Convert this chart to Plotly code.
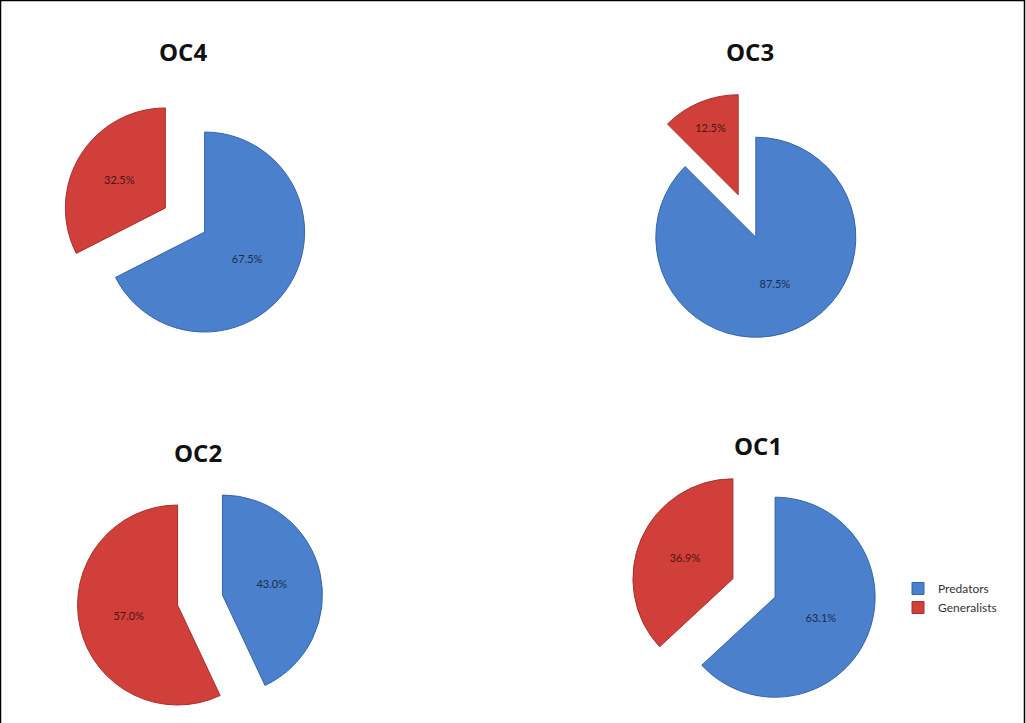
import plotly.graph_objects as go

W, H = 1026, 723

charts = ["OC4", "OC3", "OC2", "OC1"]
categories = ["Predators", "Generalists"]
predators = [67.5, 87.5, 43.0, 63.1]
generalists = [32.5, 12.5, 57.0, 36.9]

colors = ["#4A80CC", "#D13F3A"]
line_colors = ["#3565A8", "#A8302C"]

# pie centres (px, from top-left) and title positions
centers = [(185, 220), (747, 216), (200, 600), (754, 588)]
title_pos = [(183, 52), (750, 52), (198, 452), (758, 445)]
radius = 100
pull = 0.23

fig = go.Figure()
for i, name in enumerate(charts):
    cx, cy = centers[i]
    half = radius * (1 + pull)
    dx = [(cx - half) / W, (cx + half) / W]
    dy = [(H - cy - half) / H, (H - cy + half) / H]
    fig.add_trace(go.Pie(
        labels=categories,
        values=[predators[i], generalists[i]],
        sort=False,
        direction="clockwise",
        rotation=0,
        pull=[pull, pull],
        marker=dict(colors=colors, line=dict(color=line_colors, width=1)),
        texttemplate="%{percent:.1%}",
        textposition="inside",
        insidetextorientation="horizontal",
        textfont=dict(family="Lato, Liberation Sans, sans-serif", size=11,
                      color=["#1C2E4F", "#4A1512"]),
        domain=dict(x=dx, y=dy),
        showlegend=(i == 0),
        hoverinfo="label+percent",
    ))
    tx, ty = title_pos[i]
    fig.add_annotation(
        x=tx / W, y=1 - ty / H, xref="paper", yref="paper",
        text="<b>" + name + "</b>", showarrow=False,
        font=dict(family="Open Sans, Lato, sans-serif", size=24, color="#111111"),
        xanchor="center", yanchor="middle",
    )

fig.add_shape(type="rect", xref="paper", yref="paper",
              x0=0.5 / W, y0=-0.01, x1=1 - 1.5 / W, y1=1 - 0.5 / H,
              line=dict(color="black", width=1.5), fillcolor="rgba(0,0,0,0)")

fig.update_layout(
    width=W, height=H,
    margin=dict(l=0, r=0, t=0, b=0),
    paper_bgcolor="white", plot_bgcolor="white",
    legend=dict(x=898 / W, y=1 - 574 / H, xanchor="left", yanchor="top",
                font=dict(family="Lato, Liberation Sans, sans-serif", size=12, color="#333333"),
                itemwidth=30, bgcolor="rgba(0,0,0,0)"),
)

fig.write_html("out.html",
               config={"displayModeBar": False},
               post_script="document.body.style.margin='0';document.body.style.overflow='hidden';")
